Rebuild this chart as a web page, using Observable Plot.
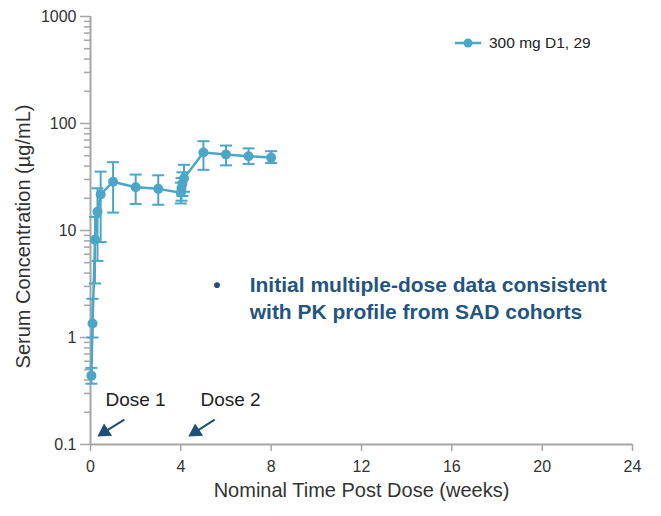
<!DOCTYPE html>
<html>
<head>
<meta charset="utf-8">
<script src="https://cdn.jsdelivr.net/npm/d3@7"></script>
<script src="https://cdn.jsdelivr.net/npm/@observablehq/plot@0.6"></script>
<style>
  html, body { margin: 0; padding: 0; background: #fff; }
  #wrap { position: relative; width: 661px; height: 516px; font-family: "Liberation Sans", Arial, sans-serif; }
  #legend { position: absolute; left: 454px; top: 33px; display: flex; align-items: center; font-size: 15.5px; color: #222; }
  #legend svg { margin-right: 7px; }
</style>
</head>
<body>
<div id="wrap">
  <div id="chart"></div>
  <div id="legend"><svg width="28" height="20"><line x1="1" y1="10" x2="27" y2="10" stroke="#4BA7C7" stroke-width="2.5"/><circle cx="14" cy="10" r="4.5" fill="#4BA7C7"/></svg><span>300 mg D1, 29</span></div>
</div>
<script>
// Data (weeks, µg/mL)
const weeks = [0.04, 0.09, 0.2, 0.31, 0.45, 1, 2, 3, 4, 4.03, 4.07, 4.14, 5, 6, 7, 8];
const conc  = [0.44, 1.35, 8.2, 15, 21.7, 28.6, 25.4, 24.5, 22.5, 25, 27.5, 30.8, 53.6, 51.3, 49.4, 48];
const lower = [0.37, 1.0, 3.2, 5.2, 7.8, 14.7, 17.7, 17.4, 17.9, 19, 21, 23, 36.9, 40.6, 41.9, 42.7];
const upper = [0.52, 2.3, 13.4, 24.8, 35.5, 43.5, 33.3, 32.8, 28, 31, 35, 41.1, 68.3, 62.2, 58.6, 55.1];

const xTicks = [0, 4, 8, 12, 16, 20, 24];
const yMajor = [0.1, 1, 10, 100, 1000];
const yMinor = [0.1, 1, 10, 100].flatMap(d => [2,3,4,5,6,7,8,9].map(k => +(d * k).toPrecision(3)));

const yTitle = ["Serum Concentration (µg/mL)"];
const xTitle = ["Nominal Time Post Dose (weeks)"];
const doseLabels = [{x: 0.66, y: 0.26, text: "Dose 1"}, {x: 4.87, y: 0.26, text: "Dose 2"}];
const doseArrows = [{x1: 1.5, y1: 0.171, x2: 0.62, y2: 0.131}, {x1: 5.5, y1: 0.171, x2: 4.65, y2: 0.131}];
const note = [{x: 7.05, y: 3.05, text: "Initial multiple-dose data consistent\nwith PK profile from SAD cohorts"}];
const bullet = [{x: 5.6, y: 3.05, text: "•"}];

const data = weeks.map((w, i) => ({w, c: conc[i], lo: lower[i], hi: upper[i]}));

const blue = "#4BA7C7";
const navy = "#1F4E79";
const axisGray = "#a6a6a6";
const capSymbol = { draw(ctx) { ctx.moveTo(-6, 0); ctx.lineTo(6, 0); } };

const chart = Plot.plot({
  width: 661,
  height: 516,
  marginLeft: 90,
  marginRight: 29,
  marginTop: 16,
  marginBottom: 72,
  style: { fontFamily: "Liberation Sans, Arial, sans-serif", fontSize: "16px", color: "#333", background: "#fff" },
  x: { domain: [0, 24] },
  y: { type: "log", domain: [0.1, 1000] },
  marks: [
    Plot.axisY({ticks: yMinor, tickSize: 6, tickFormat: () => "", stroke: axisGray, strokeWidth: 1.5, label: null}),
    Plot.axisY({ticks: yMajor, tickSize: 10, tickPadding: 4, tickFormat: d => String(d), stroke: axisGray, strokeWidth: 1.5, fontSize: 16, fill: "#333", label: null}),
    Plot.axisX({ticks: xTicks, tickSize: 7, tickPadding: 9, tickFormat: d => String(d), stroke: axisGray, strokeWidth: 1.5, fontSize: 16, fill: "#333", label: null}),
    Plot.ruleX([0], {stroke: axisGray, strokeWidth: 2}),
    Plot.ruleY([0.1], {stroke: axisGray, strokeWidth: 2}),
    Plot.text(yTitle, {frameAnchor: "left", textAnchor: "middle", dx: -67, dy: 6, rotate: -90, fontSize: 20, fill: "#333"}),
    Plot.text(xTitle, {frameAnchor: "bottom", textAnchor: "middle", dy: 52, fontSize: 20, fill: "#333"}),
    Plot.ruleX(data, {x: "w", y1: "lo", y2: "hi", stroke: blue, strokeWidth: 2}),
    Plot.dot(data, {x: "w", y: "lo", symbol: capSymbol, stroke: blue, strokeWidth: 2, fill: "none"}),
    Plot.dot(data, {x: "w", y: "hi", symbol: capSymbol, stroke: blue, strokeWidth: 2, fill: "none"}),
    Plot.line(data, {x: "w", y: "c", stroke: blue, strokeWidth: 2.5}),
    Plot.dot(data, {x: "w", y: "c", r: 5, fill: blue, stroke: "none"}),
    Plot.text(doseLabels, {x: "x", y: "y", text: "text", textAnchor: "start", fontSize: 19, fill: "#222"}),
    Plot.link(doseArrows, {x1: "x1", y1: "y1", x2: "x2", y2: "y2", stroke: navy, strokeWidth: 2}),
    Plot.dot(doseArrows, {x: "x2", y: "y2", symbol: "triangle", r: 5.5, fill: navy, stroke: "none", rotate: 237}),
    Plot.text(bullet, {x: "x", y: "y", text: "text", fontSize: 21, fontWeight: "bold", fill: navy}),
    Plot.text(note, {x: "x", y: "y", text: "text", textAnchor: "start", lineAnchor: "top", lineHeight: 1.3, fontSize: 21, fontWeight: "bold", fill: "#24557F", dy: -13})
  ]
});
document.getElementById("chart").appendChild(chart);
</script>
</body>
</html>
